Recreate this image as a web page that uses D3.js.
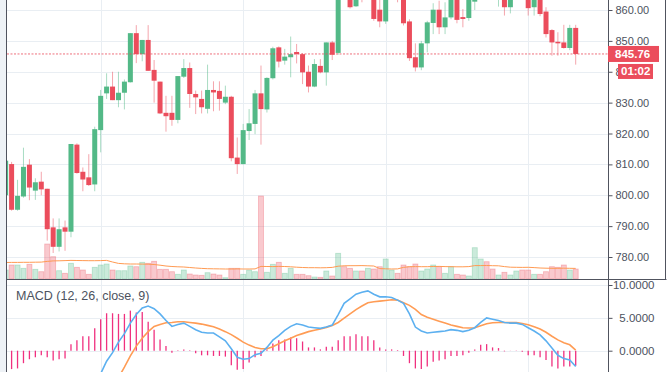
<!DOCTYPE html>
<html>
<head>
<meta charset="utf-8">
<script src="https://cdnjs.cloudflare.com/ajax/libs/d3/7.8.5/d3.min.js"></script>
<style>
  html, body { margin: 0; padding: 0; background: #fff; overflow: hidden; }
  svg { display: block; font-family: "Liberation Sans", Arial, sans-serif; }
</style>
</head>
<body>
<svg id="chart" width="672" height="372"></svg>
<script>
// hourly candles, first one (index -1) is cut by the left edge
const opens = [
  800, 810.1, 795.3, 799.6, 809.9, 801.5, 804.4, 802.1, 789.6, 783.3,
  789.6, 788.2, 816.4, 807.6, 805.8, 803.5, 821.1, 833, 835.2, 830.8,
  833.2, 836.6, 852.5, 845.7, 850.3, 840.6, 836.8, 826.7, 826.7, 824.4,
  838.4, 841.2, 832.8, 831.2, 828, 834.1, 833.8, 830, 831.9, 812.2,
  810.1, 820.8, 823.1, 833, 827.8, 837.9, 847.9, 843.6, 844.7, 846.4,
  845.7, 840, 835.2, 841.9, 839.8, 849.5, 846.1, 869, 868, 861.2,
  867.5, 865, 868, 860.1, 856.3, 866, 868, 866, 856.3, 844.7,
  841.4, 849.2, 855.8, 860.1, 854.4, 857.6, 866, 857.7, 857.4, 862.7,
  868, 870, 867, 865, 866, 860.9, 866, 868, 866, 860.9,
  865, 859.5, 853.5, 849.7, 849.5, 847.7, 854.2
];
const highs = [
  812, 810.8, 805, 815.4, 811.7, 805.5, 807.6, 802.1, 792.5, 792.5,
  791.8, 816.6, 816.8, 809, 813.3, 822.2, 834.1, 839.5, 840, 840,
  837.5, 852.5, 855.1, 850.3, 855.1, 843.8, 836.8, 832.2, 832.2, 838.6,
  844.1, 843, 833.9, 833.9, 842.3, 836.9, 836.9, 835.5, 832.2, 818.7,
  823.1, 827.9, 834.1, 842, 838.2, 848.1, 848.2, 847.4, 851.4, 849,
  846, 842, 844.1, 844.1, 849.5, 850, 868, 872, 870, 869,
  869, 870, 869, 864, 868, 870, 869, 867, 857, 849.2,
  850, 856.5, 862.2, 863, 862.5, 868, 867, 860.3, 868, 870,
  872, 871, 869, 869, 868, 868, 870, 869, 868, 867,
  866, 860.9, 853.8, 852.8, 855.2, 855.2, 855.2
];
const lows = [
  799, 795, 795, 799.2, 798.4, 798.5, 800, 785.3, 781.3, 781.8,
  782, 786.4, 807, 801.3, 803, 801.3, 813.9, 831.2, 830.8, 828.5,
  827.8, 836.5, 842.8, 843.4, 840.3, 830, 826.3, 820.6, 822.5, 823.3,
  838, 828.3, 826.3, 826.5, 826.5, 827.2, 827.4, 829.5, 811, 806.9,
  810, 817.9, 819.8, 816.4, 826.8, 837.5, 841.4, 842.3, 838.2, 842.7,
  836, 833.3, 835, 839.5, 835.5, 843.8, 845.5, 864, 860.5, 861,
  862.5, 864, 856.5, 854.4, 855.5, 864, 862.5, 855, 843.5, 840.1,
  840.5, 846.3, 852.2, 852.2, 852.2, 857, 855.7, 854.4, 856.5, 860,
  865, 864.5, 864, 861.1, 858.2, 858.9, 864, 864, 858.2, 858.2,
  858, 851.1, 845.2, 845.2, 847.5, 847, 842.3
];
const closes = [
  811.2, 795.3, 799.8, 809.2, 802.5, 804.2, 801.9, 789, 783.3, 789,
  788.2, 816.6, 807.2, 805.1, 803.3, 821.4, 832.2, 835.2, 830.8, 833.2,
  836.8, 852.5, 845.7, 850.3, 840.3, 837.1, 826.5, 825.6, 824.4, 838.6,
  841.2, 832.8, 831.7, 828.5, 834.1, 833.3, 831.2, 831.9, 812, 810.1,
  821.1, 823.3, 833, 827.9, 838, 847.6, 843.3, 844.9, 845.7, 845.7,
  839.8, 835.2, 842.5, 839.8, 849.5, 845.5, 866, 866.5, 860.9, 867,
  865, 868, 857.1, 856.3, 866, 868, 866, 855.7, 844.4, 841.4,
  849.2, 856, 860.1, 854.4, 857.6, 866, 856.8, 857.1, 866, 868,
  870, 867, 865, 868, 860.9, 866, 868, 865.5, 860.6, 865,
  858.7, 852.2, 849.5, 849.2, 847.7, 854.2, 845.76
];
const volumes = [
  9, 14, 14, 10.7, 14.7, 9.7, 7.3, 35, 22.3, 8.3,
  5.7, 15.7, 11.7, 9, 4.7, 11.7, 14, 15, 9, 8.3,
  8.3, 13, 12.3, 16.7, 15.7, 17.7, 9.7, 9.7, 7.3, 4.7,
  9, 5, 4, 3.7, 6.3, 5, 4, 1.3, 10.7, 10.7,
  4.7, 9, 7.3, 83, 6.7, 14.7, 16.7, 5.7, 10.7, 4.7,
  4.7, 3.3, 2, 1.7, 8, 3, 25.7, 12.3, 10.7, 8,
  8, 10.7, 10, 12.3, 20, 9, 5.7, 14, 12.3, 15,
  8, 10, 14, 12.3, 5.7, 12.3, 4.7, 4, 3, 31.3,
  20, 17.3, 10, 4, 6.7, 4, 8, 9, 9, 4.7,
  4.7, 7.3, 12.3, 11.7, 14, 9, 10
];
const volumeMA = [
  16.5, 16.6, 16.6, 16.7, 16.7, 16.8, 16.9, 17.6, 18.1, 18.2,
  18.4, 18.6, 18.5, 18.4, 18.3, 18.3, 18.4, 18.6, 17.0, 15.6,
  15.2, 15.0, 15.0, 14.9, 14.8, 14.5, 13.8, 13.0, 12.5, 12.2,
  12.0, 11.5, 11.0, 10.6, 10.3, 10.2, 10.1, 10.0, 10.0, 10.1,
  10.0, 10.0, 10.1, 12.6, 12.5, 12.4, 12.6, 12.5, 12.2, 11.8,
  11.5, 11.3, 11.3, 11.2, 11.3, 11.6, 12.8, 13.2, 13.3, 13.3,
  13.4, 13.2, 13.0, 10.4, 10.2, 10.0, 10.1, 11.6, 12.3, 12.4,
  12.3, 12.3, 12.5, 12.6, 12.4, 12.3, 12.2, 12.2, 12.4, 13.4,
  13.4, 13.5, 13.3, 13.2, 12.4, 11.8, 11.7, 11.6, 11.7, 11.4,
  11.0, 10.8, 10.7, 10.7, 10.8, 10.7, 10.6
];
const macdLine = [
  null, null, null, null, null, null, null, null, null, null,
  null, null, null, null, -6.0, -4.6, -3.5, -1.6, -0.3, 1.3,
  2.6, 4.2, 5.5, 6.5, 6.8, 6.4, 5.6, 4.6, 3.7, 4.0,
  4.2, 3.7, 3.2, 2.8, 2.7, 2.7, 2.1, 1.5, 0.3, -1.0,
  -1.3, -1.2, -0.6, -0.4, 0.5, 1.6, 2.3, 3.1, 3.7, 4.1,
  3.9, 3.6, 3.5, 3.4, 3.6, 3.9, 5.5, 7.2, 7.9, 8.6,
  8.9, 9.1, 8.6, 8.2, 8.2, 8.1, 7.7, 7.2, 5.6, 3.6,
  3.0, 2.7, 2.8, 2.9, 3.0, 3.2, 3.1, 2.9, 3.1, 3.5,
  4.3, 5.0, 4.8, 4.6, 4.3, 4.2, 4.2, 4.0, 3.5, 3.0,
  2.4, 1.5, 0.4, -0.7, -1.2, -1.4, -2.4
];
const signalLine = [
  null, null, null, null, null, null, null, null, null, null,
  null, null, null, null, null, null, null, -7.0, -5.5, -4.1,
  -2.5, -0.8, 0.7, 1.9, 2.9, 3.7, 4.0, 4.25, 4.3, 4.4,
  4.4, 4.3, 4.2, 4.05, 3.85, 3.65, 3.3, 2.9, 2.45, 1.9,
  1.3, 0.85, 0.5, 0.3, 0.3, 0.6, 1.05, 1.5, 1.9, 2.3,
  2.6, 2.9, 3.1, 3.3, 3.55, 3.85, 4.3, 4.95, 5.6, 6.25,
  6.8, 7.3, 7.45, 7.55, 7.65, 7.75, 7.7, 7.3, 6.9, 6.3,
  5.5, 5.1, 4.8, 4.5, 4.2, 3.9, 3.7, 3.5, 3.45, 3.5,
  3.8, 4.1, 4.25, 4.3, 4.3, 4.3, 4.3, 4.15, 3.95, 3.65,
  3.3, 2.8, 2.2, 1.65, 1.2, 0.9, 0.1
];
const histogram = [
  null, -2.8, -2.7, -1.9, -1.3, -1.0, -0.7, -1.0, -1.5, -1.3,
  -1.2, 1.0, 1.6, 2.2, 2.2, 3.4, 4.8, 5.7, 5.7, 5.6,
  5.6, 6.1, 5.8, 5.9, 4.4, 3.2, 1.7, 0.7, -0.3, 0.05,
  0.2, 0.05, -0.4, -0.7, -0.7, -0.8, -0.8, -0.9, -2.2, -2.9,
  -2.8, -1.8, -1.0, -0.8, 0.2, 1.1, 1.6, 1.7, 2.0, 1.9,
  1.4, 0.5, 0.5, 0.2, 0.6, 0.6, 1.6, 2.2, 2.2, 2.5,
  2.2, 2.2, 1.6, 0.5, 0.2, 0.2, 0.1, -0.8, -1.9, -2.7,
  -2.8, -2.4, -1.7, -1.5, -1.3, -0.8, -0.8, -0.7, -0.3, 0.2,
  0.9, 1.0, 0.5, 0.4, -0.1, 0.02, 0.02, -0.15, -0.7, -0.7,
  -1.0, -1.4, -2.4, -2.7, -2.4, -2.4, -2.3
];
const priceTicks = [780, 790, 800, 810, 820, 830, 840, 850, 860];
const macdTicks = [0, 5, 10];
const dayStarts = [15, 39, 63, 87];
const lastPrice = 845.76;
const countdown = '01:02';
const macdTitle = 'MACD (12, 26, close, 9)';

const width = 672;
const height = 372;
const left = 7;
const axisX = 609;
const rightEdge = 666;
const mainBottom = 279;
const macdTop = 280;

const upColor = '#53b987';
const downColor = '#eb4d5c';
const gridColor = '#e9eef3';
const lineColor = '#50535e';
const textColor = '#4c525e';

const candles = opens.map((o, k) => ({
  i: k - 1,
  o, h: highs[k], l: lows[k], c: closes[k],
  v: volumes[k], ma: volumeMA[k],
  macd: macdLine[k], sig: signalLine[k], hist: histogram[k]
}));
const colorOf = d => d.c >= d.o ? upColor : downColor;

const x = d3.scaleLinear().domain([0, 95]).range([11.6, 575.7]);
const y = d3.scaleLinear().domain([780, 860]).range([257, 10]);
const yVol = d3.scaleLinear().domain([0, 100]).range([mainBottom, mainBottom - 100]);
const yMacd = d3.scaleLinear().domain([0, 10]).range([350.7, 285]);

const svg = d3.select('#chart')
  .attr('viewBox', `0 0 ${width} ${height}`);

const defs = svg.append('defs');
defs.append('clipPath').attr('id', 'clip-main')
  .append('rect').attr('x', left).attr('y', 0).attr('width', axisX - left).attr('height', mainBottom);
defs.append('clipPath').attr('id', 'clip-macd')
  .append('rect').attr('x', left).attr('y', macdTop).attr('width', axisX - left).attr('height', height - macdTop);
// price labels hidden behind the countdown box
defs.append('clipPath').attr('id', 'clip-under-box')
  .append('rect').attr('x', 0).attr('y', -20).attr('width', 618 - axisX + 0.5).attr('height', 40);

// left strip
svg.append('rect').attr('x', 0).attr('y', 0).attr('width', left).attr('height', height).attr('fill', '#eef2f6');

// grid
const grid = svg.append('g').attr('stroke', gridColor).attr('stroke-width', 1);
grid.selectAll('line.h')
  .data(priceTicks)
  .join('line')
  .attr('x1', left).attr('x2', axisX)
  .attr('y1', d => Math.round(y(d)) + 0.5).attr('y2', d => Math.round(y(d)) + 0.5);
grid.selectAll('line.m')
  .data(macdTicks)
  .join('line')
  .attr('x1', left).attr('x2', axisX)
  .attr('y1', d => Math.round(yMacd(d)) + 0.5).attr('y2', d => Math.round(yMacd(d)) + 0.5);
grid.selectAll('line.v')
  .data(dayStarts)
  .join('line')
  .attr('x1', d => Math.round(x(d)) + 0.5).attr('x2', d => Math.round(x(d)) + 0.5)
  .attr('y1', 0).attr('y2', height);

// main panel
const main = svg.append('g').attr('clip-path', 'url(#clip-main)');

main.selectAll('rect.vol')
  .data(candles)
  .join('rect')
  .attr('class', 'vol')
  .attr('x', d => x(d.i) - 2.5)
  .attr('width', 5)
  .attr('y', d => yVol(d.v))
  .attr('height', d => yVol(0) - yVol(d.v))
  .attr('fill', colorOf)
  .attr('fill-opacity', 0.3)
  .attr('stroke', colorOf)
  .attr('stroke-opacity', 0.35)
  .attr('stroke-width', 0.8);

main.append('path')
  .datum(candles)
  .attr('fill', 'none')
  .attr('stroke', '#ff9a52')
  .attr('stroke-width', 1)
  .attr('d', d3.line().x(d => x(d.i)).y(d => yVol(d.ma)));

main.selectAll('line.wick')
  .data(candles)
  .join('line')
  .attr('class', 'wick')
  .attr('x1', d => x(d.i)).attr('x2', d => x(d.i))
  .attr('y1', d => y(d.h)).attr('y2', d => y(d.l))
  .attr('stroke', colorOf)
  .attr('stroke-opacity', 0.5)
  .attr('stroke-width', 1);

main.selectAll('rect.body')
  .data(candles)
  .join('rect')
  .attr('class', 'body')
  .attr('x', d => x(d.i) - 2.5)
  .attr('width', 5)
  .attr('y', d => y(Math.max(d.o, d.c)))
  .attr('height', d => Math.max(1, Math.abs(y(d.o) - y(d.c))))
  .attr('fill', colorOf);

main.append('line')
  .attr('x1', left).attr('x2', axisX)
  .attr('y1', y(lastPrice)).attr('y2', y(lastPrice))
  .attr('stroke', downColor)
  .attr('stroke-opacity', 0.8)
  .attr('stroke-dasharray', '2,1.5')
  .attr('stroke-width', 1);

// MACD panel
const macd = svg.append('g').attr('clip-path', 'url(#clip-macd)');

macd.selectAll('line.hist')
  .data(candles.filter(d => d.hist != null))
  .join('line')
  .attr('class', 'hist')
  .attr('x1', d => x(d.i)).attr('x2', d => x(d.i))
  .attr('y1', yMacd(0)).attr('y2', d => yMacd(d.hist))
  .attr('stroke', '#f0307f')
  .attr('stroke-width', 1.3);

macd.append('path')
  .datum(candles)
  .attr('fill', 'none')
  .attr('stroke', '#ff9c55')
  .attr('stroke-width', 1.6)
  .attr('d', d3.line().defined(d => d.sig != null).x(d => x(d.i)).y(d => yMacd(d.sig)));

macd.append('path')
  .datum(candles)
  .attr('fill', 'none')
  .attr('stroke', '#5cb0f0')
  .attr('stroke-width', 1.6)
  .attr('d', d3.line().defined(d => d.macd != null).x(d => x(d.i)).y(d => yMacd(d.macd)));

svg.append('text')
  .attr('x', 16).attr('y', 300)
  .attr('font-size', 12.5)
  .attr('fill', textColor)
  .text(macdTitle);

// borders
const borders = svg.append('g').attr('stroke', lineColor).attr('stroke-width', 1);
borders.append('line').attr('x1', 6.5).attr('x2', 6.5).attr('y1', 0).attr('y2', height);
borders.append('line').attr('x1', 6.5).attr('x2', rightEdge + 0.5).attr('y1', mainBottom + 0.5).attr('y2', mainBottom + 0.5);
borders.append('line').attr('x1', axisX - 0.5).attr('x2', axisX - 0.5).attr('y1', 0).attr('y2', height);
borders.append('line').attr('x1', rightEdge - 0.5).attr('x2', rightEdge - 0.5).attr('y1', 0).attr('y2', mainBottom + 0.5);

// axes
const ly = y(lastPrice);
const priceAxis = svg.append('g')
  .attr('transform', `translate(${axisX - 0.5},0)`)
  .call(d3.axisRight(y).tickValues(priceTicks).tickSize(4).tickPadding(3).tickFormat(d3.format('.2f')));
priceAxis.select('.domain').remove();
priceAxis.selectAll('line').attr('stroke', lineColor);
priceAxis.selectAll('text').attr('fill', textColor).attr('font-size', 11).attr('font-family', null);
priceAxis.selectAll('.tick')
  .filter(d => Math.abs(y(d) - (ly + 17.5)) < 9)
  .select('text')
  .attr('clip-path', 'url(#clip-under-box)');

const macdAxis = svg.append('g')
  .attr('transform', `translate(${axisX - 0.5},0)`)
  .call(d3.axisRight(yMacd).tickValues(macdTicks).tickSize(4).tickFormat(d3.format('.4f')));
macdAxis.select('.domain').remove();
macdAxis.selectAll('line').attr('stroke', lineColor);
macdAxis.selectAll('text')
  .attr('fill', textColor).attr('font-size', 11.5).attr('font-family', null)
  .attr('x', 46).attr('text-anchor', 'end');

// last price and countdown labels
svg.append('rect').attr('x', 608).attr('y', ly - 8).attr('width', 51).attr('height', 16).attr('fill', downColor);
svg.append('text')
  .attr('x', 615).attr('y', ly + 4)
  .attr('font-size', 11.5).attr('font-weight', 'bold').attr('fill', '#fff')
  .text(d3.format('.2f')(lastPrice));
svg.append('rect').attr('x', 618).attr('y', ly + 10).attr('width', 35).attr('height', 15).attr('fill', downColor);
svg.append('text')
  .attr('x', 621).attr('y', ly + 21.5)
  .attr('font-size', 11.5).attr('font-weight', 'bold').attr('fill', '#fff')
  .text(countdown);
</script>
</body>
</html>
